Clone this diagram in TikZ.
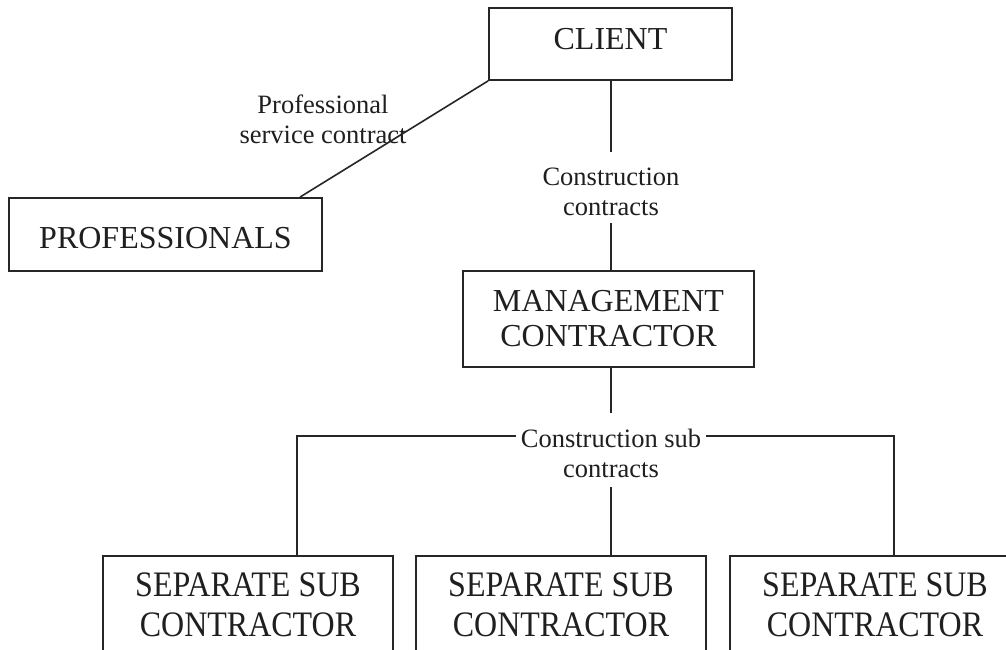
\documentclass[tikz,border=0pt]{standalone}
\usepackage{fontspec}
\usepackage{graphicx}
\setmainfont{Liberation Serif}
\begin{document}
\begin{tikzpicture}[x=1pt,y=-1pt,
  box/.style={draw=black!85, line width=1.8pt, inner sep=0pt, align=center,
    text=black!88, font=\fontsize{32}{35}\selectfont},
  subbox/.style={box, minimum width=290pt, minimum height=98pt,
    font=\fontsize{32}{40}\selectfont},
  lab/.style={inner ysep=0pt, inner xsep=4.5pt, align=center, text=black!88,
    font=\fontsize{26.5}{30}\selectfont},
  link/.style={draw=black!85, line width=1.6pt}]
\useasboundingbox (0,0) rectangle (1006,650);
\clip (0,0) rectangle (1006,650);
\fill[white] (0,0) rectangle (1006,650);

% parties
\node[box, minimum width=243pt, minimum height=72pt, text height=21pt, text depth=9pt]
  (client) at (610.5,44) {CLIENT};
\node[box, minimum width=313pt, minimum height=73pt, text height=27pt, text depth=0pt]
  (prof) at (165.5,234.5) {PROFESSIONALS};
\node[box, minimum width=291pt, minimum height=96pt]
  (mc) at (608.5,319) {MANAGEMENT\\CONTRACTOR};
\newcommand{\subtext}{\scalebox{1}[1.12]{SEPARATE SUB}\\\scalebox{1}[1.12]{CONTRACTOR}}
\node[subbox] (sub1) at (248,605) {\subtext};
\node[subbox] (sub2) at (561,605) {\subtext};
\node[subbox] (sub3) at (875,605) {\subtext};

% contract labels (struts set where the connectors stop)
\node[lab] (pc) at (323,119) {\rule{0pt}{20pt}Professional\\service contract\rule[-2pt]{0pt}{2pt}};
\node[lab] (cc) at (611,187.5) {\rule{0pt}{33pt}Construction\\contracts\rule[-8pt]{0pt}{8pt}};
\node[lab] (cs) at (611,450) {\rule{0pt}{34pt}Construction sub\\contracts\rule[-10pt]{0pt}{10pt}};

% connectors
\draw[link] ([xshift=134.5pt]prof.north) -- (client.south west);
\draw[link] (cc.north) -- (cc.north |- client.south);
\draw[link] (cc.south) -- (cc.south |- mc.north);
\draw[link] (cs.north) -- (cs.north |- mc.south);
\draw[link] (cs.south) -- (cs.south |- sub2.north);
\coordinate (jl) at (297,436);
\coordinate (jr) at (894,436);
\draw[link] (cs.west |- jl) -- (jl) -- (jl |- sub1.north);
\draw[link] (cs.east |- jr) -- (jr) -- (jr |- sub3.north);
\end{tikzpicture}
\end{document}
